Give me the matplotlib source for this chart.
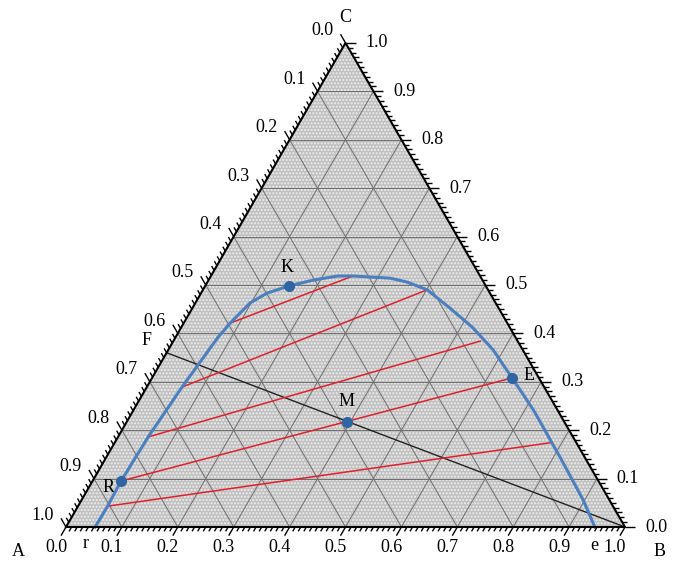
import numpy as np
import matplotlib.pyplot as plt
from matplotlib.patches import Polygon
from matplotlib.collections import LineCollection

plt.rcParams['font.family'] = ['Liberation Serif', 'DejaVu Serif']
plt.rcParams['hatch.linewidth'] = 1.0

# binodal curve (fractions of B and C, A is the rest)
curve_b = [0.052, 0.053, 0.051, 0.054, 0.063, 0.076, 0.083, 0.098, 0.118, 0.150, 0.187, 0.227, 0.254,
           0.323, 0.357, 0.401, 0.461, 0.520, 0.581, 0.644, 0.715, 0.811, 0.897, 0.946]
curve_c = [0.000, 0.043, 0.095, 0.186, 0.289, 0.392, 0.421, 0.463, 0.483, 0.498, 0.510, 0.5185, 0.5185,
           0.514, 0.506, 0.490, 0.452, 0.413, 0.366, 0.308, 0.242, 0.145, 0.056, 0.000]

# tie lines, raffinate end and extract end
tie_left_b = [0.053, 0.051, 0.054, 0.063, 0.083]
tie_left_c = [0.043, 0.095, 0.186, 0.289, 0.421]
tie_right_b = [0.779, 0.644, 0.549, 0.401, 0.254]
tie_right_c = [0.174, 0.308, 0.384, 0.490, 0.5185]

point_names = ['R', 'K', 'M', 'E']
point_b = [0.051, 0.150, 0.394, 0.644]
point_c = [0.095, 0.498, 0.217, 0.308]
# label offsets in pixels (x right, y up)
point_off = [(-13, -6), (-2, 18), (0, 20), (17, 2)]

feed_c = 0.36  # F on the A-C side, line F-B
r_b, e_b = 0.036, 0.945  # r and e marks below the base

major = np.round(np.arange(0, 1.01, 0.1), 1)
minor = np.round(np.arange(0, 1.001, 0.01), 2)

H = np.sqrt(3) / 2
S = 559.0  # pixels per unit side


def cart(b, c):
    b = np.asarray(b, dtype=float)
    c = np.asarray(c, dtype=float)
    return b + c / 2, c * H


fig = plt.figure(figsize=(6.75, 5.65), dpi=100)
ax = fig.add_axes([0, 0, 1, 1])
ax.set_xlim(-66 / S, 609 / S)
ax.set_ylim(-38 / S, 527 / S)
ax.axis('off')

# background with dotted texture
tri = Polygon([(0, 0), (1, 0), (0.5, H)], closed=True, facecolor='#c0c0c0',
              edgecolor='#f0f0f0', hatch='.....', lw=0, zorder=0)
ax.add_patch(tri)

# grid
segs = []
for v in major[1:-1]:
    segs.append(list(zip(*cart([0, 1 - v], [v, v]))))
    segs.append(list(zip(*cart([v, v], [0, 1 - v]))))
    segs.append(list(zip(*cart([0, 1 - v], [1 - v, 0]))))
ax.add_collection(LineCollection(segs, colors='#6e6e6e', linewidths=0.7, zorder=1))

# outline
ox, oy = cart([0, 1, 0, 0], [0, 0, 1, 0])
ax.plot(ox, oy, color='black', lw=1.5, zorder=5)

# ticks
tsegs = []
for v in minor:
    ln = (10 if abs(v * 10 - round(v * 10)) < 1e-6 else 5) / S
    # bottom (B)
    x, y = cart(v, 0)
    tsegs.append([(x, y), (x - 0.5 * ln, y - H * ln)])
    # right (C)
    x, y = cart(1 - v, v)
    tsegs.append([(x, y), (x + ln, y)])
    # left (A)
    x, y = cart(0, 1 - v)
    tsegs.append([(x, y), (x - 0.5 * ln, y + H * ln)])
ax.add_collection(LineCollection(tsegs, colors='black', linewidths=1.0, zorder=5))

fs = 13
for v in major:
    x, y = cart(v, 0)
    ax.text(x - 10 / S, y - 21 / S, f'{v:.1f}', ha='center', va='center', fontsize=fs)
    x, y = cart(1 - v, v)
    ax.text(x + 31 / S, y, f'{v:.1f}', ha='center', va='center', fontsize=fs)
    x, y = cart(0, 1 - v)
    ax.text(x - 23 / S, y + 12 / S, f'{v:.1f}', ha='center', va='center', fontsize=fs)

ax.text(-48 / S, -24 / S, 'A', ha='center', va='center', fontsize=fs)
ax.text(594 / S, -24 / S, 'B', ha='center', va='center', fontsize=fs)
ax.text(0.5, H + 25 / S, 'C', ha='center', va='center', fontsize=fs)
ax.text(r_b, -17 / S, 'r', ha='center', va='center', fontsize=fs)
ax.text(e_b, -18 / S, 'e', ha='center', va='center', fontsize=fs)

# line F-B
fx, fy = cart([0, 1], [feed_c, 0])
ax.plot(fx, fy, color='#222222', lw=1.0, zorder=3)
ax.text(fx[0] - 20 / S, fy[0] + 12 / S, 'F', ha='center', va='center', fontsize=fs)

# tie lines
for lb, lc, rb, rc in zip(tie_left_b, tie_left_c, tie_right_b, tie_right_c):
    tx, ty = cart([lb, rb], [lc, rc])
    ax.plot(tx, ty, color='#e0202a', lw=1.1, zorder=3)

# binodal curve
cx, cy = cart(curve_b, curve_c)
ax.plot(cx, cy, color='#4a7fc0', lw=2.2, zorder=4, solid_joinstyle='round')

px, py = cart(point_b, point_c)
ax.plot(px, py, 'o', color='#2f65a3', ms=7, zorder=6)
for name, x, y, (dx, dy) in zip(point_names, px, py, point_off):
    ax.text(x + dx / S, y + dy / S, name, ha='center', va='center', fontsize=fs)

fig.savefig('out.png', dpi=100)
